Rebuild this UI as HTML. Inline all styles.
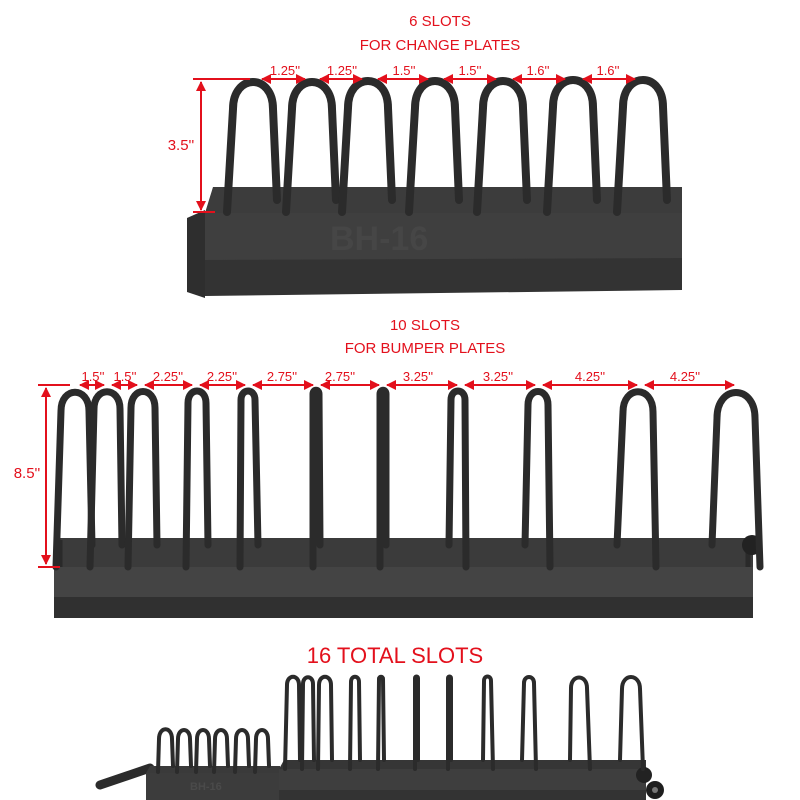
<!DOCTYPE html>
<html><head><meta charset="utf-8"><style>
html,body{margin:0;padding:0;background:#fff;}
svg{display:block}
text{font-family:"Liberation Sans",sans-serif;fill:#e3101c}
.h{fill:none;stroke:#2b2b2b;stroke-linecap:round;stroke-linejoin:round}
</style></head><body>
<svg width="800" height="800" viewBox="0 0 800 800" xmlns="http://www.w3.org/2000/svg">
<defs>
<marker id="a" viewBox="0 0 10 10" refX="9" refY="5" markerWidth="5" markerHeight="5" orient="auto-start-reverse"><path d="M0 0L10 5L0 10z" fill="#e3101c"/></marker>
</defs>

<text x="440" y="26" font-size="15" text-anchor="middle">6 SLOTS</text>
<text x="440" y="50" font-size="15" text-anchor="middle">FOR CHANGE PLATES</text>

<polygon points="213,187 682,187 682,213 205,213" fill="#3c3c3c"/>
<polygon points="205,213 682,213 682,290 205,290" fill="#3f3f3f"/>
<polygon points="205,260 682,258 682,290 205,296" fill="#333"/>
<polygon points="187,218 205,210 205,298 187,292" fill="#2e2e2e"/>
<text x="330" y="250" font-size="34" font-weight="bold" style="fill:#464646">BH-16</text>

<g class="h" stroke-width="8">
<path d="M227 212 L233 109 C233 73,273 73,273 109 L277 200"/>
<path d="M286 212 L292 109 C292 73,332 73,332 109 L336 200"/>
<path d="M342 212 L348 108 C348 72,388 72,388 108 L392 200"/>
<path d="M409 212 L415 108 C415 72,455 72,455 108 L459 200"/>
<path d="M477 212 L483 108 C483 72,523 72,523 108 L527 200"/>
<path d="M547 212 L553 107 C553 71,593 71,593 107 L597 200"/>
<path d="M617 212 L623 107 C623 71,663 71,663 107 L667 200"/>
</g>

<g stroke="#e3101c" stroke-width="2" fill="none">
<line x1="193" y1="79" x2="250" y2="79"/>
<line x1="201" y1="82" x2="201" y2="210" marker-start="url(#a)" marker-end="url(#a)"/>
<line x1="193" y1="212" x2="215" y2="212"/>
<line x1="262" y1="79" x2="305" y2="79" marker-start="url(#a)" marker-end="url(#a)"/>
<line x1="320" y1="79" x2="362" y2="79" marker-start="url(#a)" marker-end="url(#a)"/>
<line x1="378" y1="79" x2="428" y2="79" marker-start="url(#a)" marker-end="url(#a)"/>
<line x1="444" y1="79" x2="496" y2="79" marker-start="url(#a)" marker-end="url(#a)"/>
<line x1="513" y1="79" x2="565" y2="79" marker-start="url(#a)" marker-end="url(#a)"/>
<line x1="583" y1="79" x2="635" y2="79" marker-start="url(#a)" marker-end="url(#a)"/>
</g>
<g font-size="13" text-anchor="middle">
<text x="285" y="75">1.25''</text><text x="342" y="75">1.25''</text>
<text x="404" y="75">1.5''</text><text x="470" y="75">1.5''</text>
<text x="538" y="75">1.6''</text><text x="608" y="75">1.6''</text>
</g>
<text x="181" y="150" font-size="15" text-anchor="middle">3.5''</text>

<text x="425" y="330" font-size="15" text-anchor="middle">10 SLOTS</text>
<text x="425" y="353" font-size="15" text-anchor="middle">FOR BUMPER PLATES</text>

<polygon points="60,538 753,538 753,567 54,567" fill="#3b3b3b"/>
<rect x="54" y="567" width="699" height="30" fill="#444"/>
<rect x="54" y="597" width="699" height="21" fill="#303030"/>
<g stroke="#2a2a2a" stroke-width="5">
<line x1="60" y1="540" x2="60" y2="567"/><line x1="748" y1="540" x2="748" y2="567"/>
</g>
<circle cx="752" cy="545" r="10" fill="#222"/>

<g class="h" stroke-width="7">
<path d="M56 567 L61 411 C61 386,89 386,89 411 L92 545"/>
<path d="M90 567 L94 409 C94 386,120 386,120 409 L122 545"/>
<path d="M128 567 L131 408 C131 386,155 386,155 408 L157 545"/>
<path d="M186 567 L188 403 C188 387,206 387,206 403 L208 545"/>
<path d="M240 567 L241 400 C241 388,255 388,255 400 L258 545"/>
<path d="M313 567 L313 394 C313 389,319 389,319 394 L320 545"/>
<path d="M380 567 L380 394 C380 389,386 389,386 394 L386 545"/>
<path d="M466 567 L465 400 C465 388,451 388,451 400 L449 545"/>
<path d="M550 567 L548 405 C548 387,528 387,528 405 L525 545"/>
<path d="M656 567 L653 412 C653 385,623 385,623 412 L617 545"/>
<path d="M760 567 L755 418 C755 384,717 384,717 418 L712 545"/>
</g>

<g stroke="#e3101c" stroke-width="2" fill="none">
<line x1="38" y1="385" x2="70" y2="385"/>
<line x1="46" y1="388" x2="46" y2="564" marker-start="url(#a)" marker-end="url(#a)"/>
<line x1="38" y1="567" x2="60" y2="567"/>
<line x1="80" y1="385" x2="104" y2="385" marker-start="url(#a)" marker-end="url(#a)"/>
<line x1="112" y1="385" x2="137" y2="385" marker-start="url(#a)" marker-end="url(#a)"/>
<line x1="145" y1="385" x2="192" y2="385" marker-start="url(#a)" marker-end="url(#a)"/>
<line x1="200" y1="385" x2="245" y2="385" marker-start="url(#a)" marker-end="url(#a)"/>
<line x1="253" y1="385" x2="313" y2="385" marker-start="url(#a)" marker-end="url(#a)"/>
<line x1="321" y1="385" x2="379" y2="385" marker-start="url(#a)" marker-end="url(#a)"/>
<line x1="387" y1="385" x2="457" y2="385" marker-start="url(#a)" marker-end="url(#a)"/>
<line x1="465" y1="385" x2="535" y2="385" marker-start="url(#a)" marker-end="url(#a)"/>
<line x1="543" y1="385" x2="637" y2="385" marker-start="url(#a)" marker-end="url(#a)"/>
<line x1="645" y1="385" x2="734" y2="385" marker-start="url(#a)" marker-end="url(#a)"/>
</g>
<g font-size="13" text-anchor="middle">
<text x="93" y="381">1.5''</text><text x="125" y="381">1.5''</text>
<text x="168" y="381">2.25''</text><text x="222" y="381">2.25''</text>
<text x="282" y="381">2.75''</text><text x="340" y="381">2.75''</text>
<text x="418" y="381">3.25''</text><text x="498" y="381">3.25''</text>
<text x="590" y="381">4.25''</text><text x="685" y="381">4.25''</text>
</g>
<text x="27" y="478" font-size="15" text-anchor="middle">8.5''</text>

<text x="395" y="663" font-size="22" text-anchor="middle">16 TOTAL SLOTS</text>

<line x1="100" y1="785" x2="150" y2="768" stroke="#2b2b2b" stroke-width="9" stroke-linecap="round"/>
<polygon points="150,766 280,766 280,773 146,773" fill="#3a3a3a"/>
<rect x="146" y="773" width="134" height="27" fill="#3c3c3c"/>
<text x="190" y="790" font-size="11" font-weight="bold" style="fill:#4a4a4a">BH-16</text>
<g class="h" stroke-width="4">
<path d="M158 772 L159 739 C159 726,172 726,172 739 L173 766"/>
<path d="M177 772 L178 739 C178 727,190 727,190 739 L191 766"/>
<path d="M196 772 L197 739 C197 727,209 727,209 739 L210 766"/>
<path d="M214 772 L215 739 C215 727,227 727,227 739 L228 766"/>
<path d="M235 772 L236 739 C236 727,248 727,248 739 L249 766"/>
<path d="M255 772 L256 739 C256 727,268 727,268 739 L269 766"/>
</g>

<polygon points="284,760 646,760 646,769 279,769" fill="#363636"/>
<rect x="279" y="769" width="367" height="31" fill="#3e3e3e"/>
<rect x="279" y="790" width="367" height="10" fill="#333"/>
<circle cx="644" cy="775" r="8" fill="#222"/>
<circle cx="655" cy="790" r="9" fill="#1e1e1e"/>
<circle cx="655" cy="790" r="3" fill="#777"/>
<g class="h" stroke-width="4">
<path d="M285 769 L287 685 C287 674,299 674,299 685 L300 760"/>
<path d="M302 769 L303 684 C303 675,313 675,313 684 L314 760"/>
<path d="M318 769 L319 685 C319 674,331 674,331 685 L332 760"/>
<path d="M350 769 L351 682 C351 675,359 675,359 682 L360 760"/>
<path d="M378 769 L379 679 C379 676,383 676,383 679 L384 760"/>
<path d="M415 769 L415 678 C415 676,418 676,418 678 L418 760"/>
<path d="M448 769 L448 678 C448 676,451 676,451 678 L451 760"/>
<path d="M493 769 L491 681 C491 675,484 675,484 681 L483 760"/>
<path d="M536 769 L534 683 C534 675,524 675,524 683 L522 760"/>
<path d="M590 769 L587 688 C587 674,571 674,571 688 L570 760"/>
<path d="M643 769 L640 689 C640 673,622 673,622 689 L620 760"/>
</g>
</svg>
</body></html>
